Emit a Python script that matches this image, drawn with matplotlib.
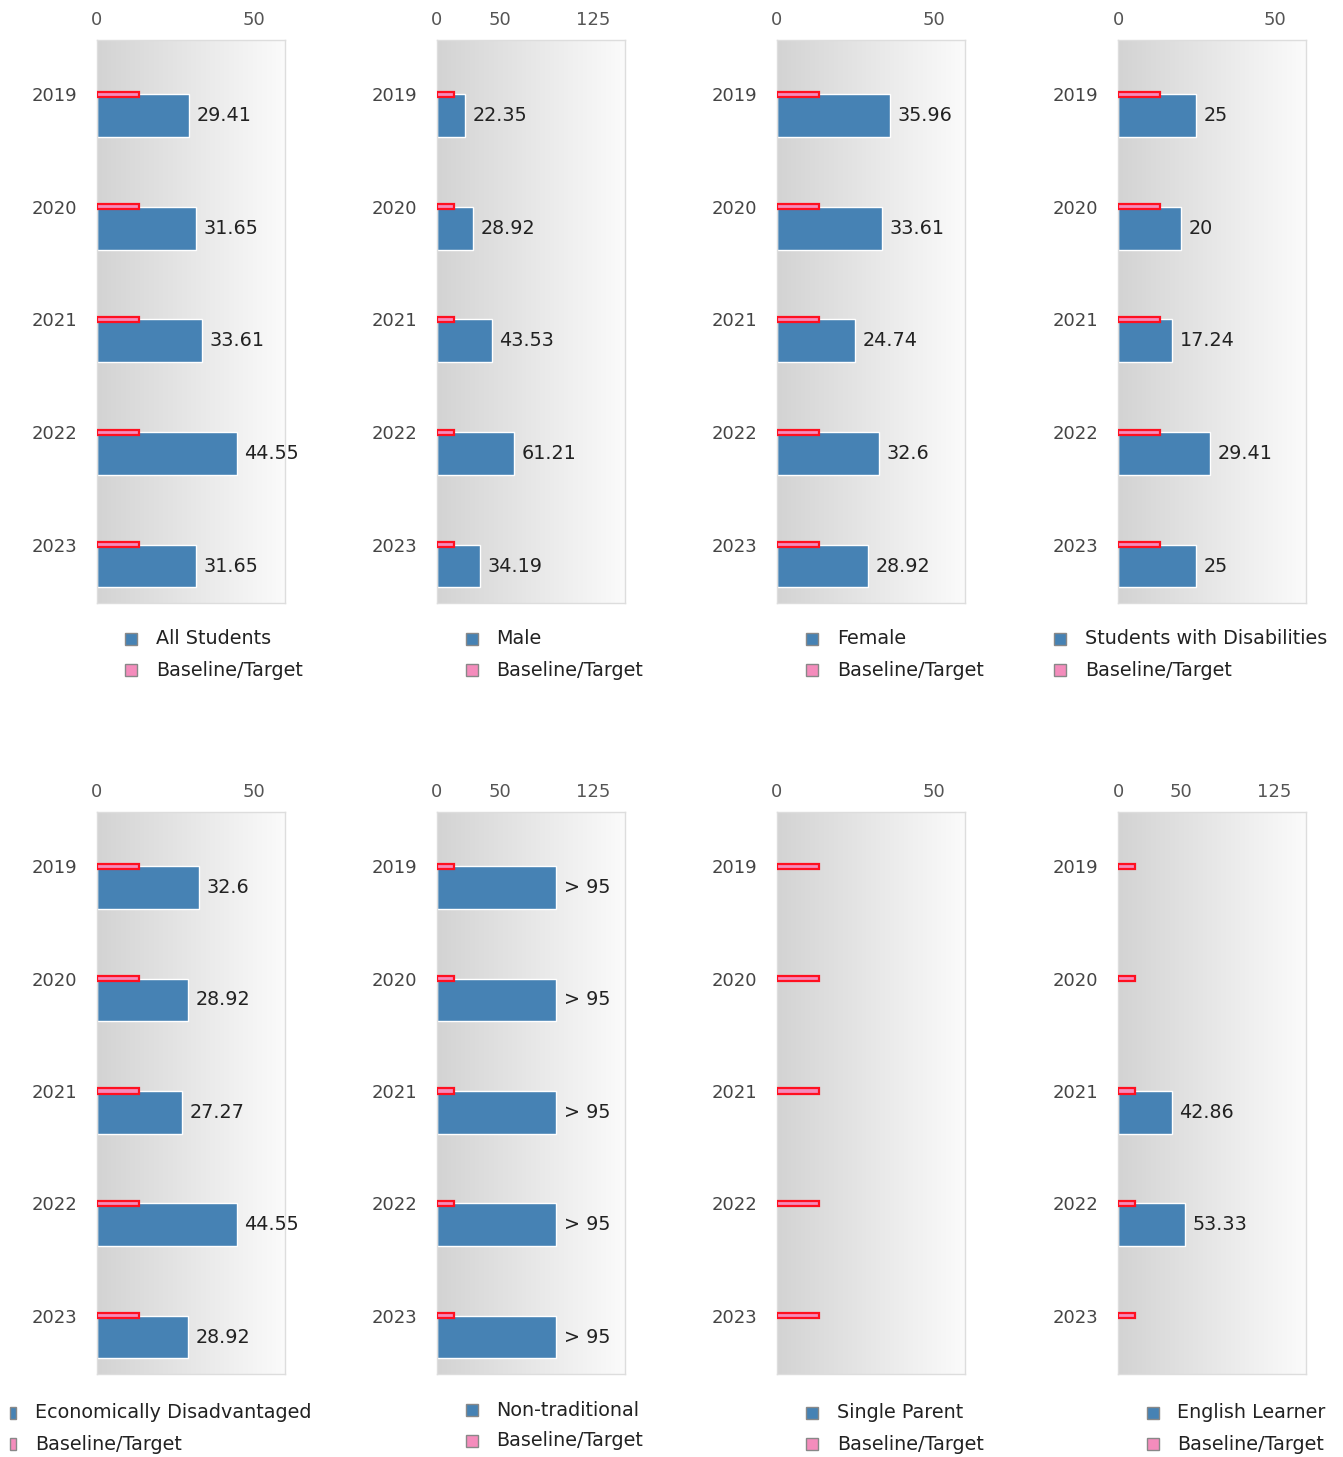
import numpy as np
import matplotlib
matplotlib.use('Agg')
from matplotlib import pyplot as plt
from matplotlib.colors import LinearSegmentedColormap
from matplotlib.patches import Rectangle

years = ['2019', '2020', '2021', '2022', '2023']
baseline = [13.3, 13.3, 13.3, 13.3, 13.3]

all_students = [29.41, 31.65, 33.61, 44.55, 31.65]
male = [22.35, 28.92, 43.53, 61.21, 34.19]
female = [35.96, 33.61, 24.74, 32.6, 28.92]
swd = [25, 20, 17.24, 29.41, 25]
econ = [32.6, 28.92, 27.27, 44.55, 28.92]
nontrad = [95, 95, 95, 95, 95]
nontrad_labels = ['> 95', '> 95', '> 95', '> 95', '> 95']
single_parent = [None, None, None, None, None]
english_learner = [None, None, 42.86, 53.33, None]

groups = ['All Students', 'Male', 'Female', 'Students with Disabilities',
          'Economically Disadvantaged', 'Non-traditional', 'Single Parent', 'English Learner']
series = [all_students, male, female, swd, econ, nontrad, single_parent, english_learner]
labels = [None, None, None, None, None, nontrad_labels, None, None]
xmax = [60, 150, 60, 60, 60, 150, 60, 150]
xticks = {60: [0, 50], 150: [0, 50, 125]}

W, H = 1343, 1457
fig = plt.figure(figsize=(W / 100, H / 100), dpi=100)

col_x = [97, 437, 777, 1118]
row_y = [(40, 603), (812, 1374)]
# legend square x, text x, first line y (pixels)
leg_pos = [(131, 156, 639), (472, 496, 639), (812, 837, 639), (1060, 1085, 639),
           (13, 35, 1413), (472, 496, 1410), (812, 837, 1413), (1153, 1177, 1413)]

grad = LinearSegmentedColormap.from_list('bg', ['#d3d3d3', '#fbfbfb'])
blue = '#4682b4'
pink = '#f48cbc'

def px(x, y):
    return x / W, 1 - y / H

for k, name in enumerate(groups):
    r, c = divmod(k, 4)
    top, bot = row_y[r]
    left = col_x[c]
    ax = fig.add_axes([left / W, 1 - bot / H, 188 / W, (bot - top) / H])
    ax.imshow(np.linspace(0, 1, 256).reshape(1, -1), cmap=grad, aspect='auto',
              extent=[0, 1, 0, 1], transform=ax.transAxes, zorder=0)
    vals = np.array([np.nan if v is None else v for v in series[k]], dtype=float)
    y = np.arange(len(years))
    ax.barh(y, vals, height=0.38, align='edge', color=blue, edgecolor='white',
            linewidth=1, zorder=2)
    ax.barh(y, baseline, height=0.045, color=pink, edgecolor='#ff1020',
            linewidth=1.6, zorder=3)
    for i, v in enumerate(series[k]):
        if v is None:
            continue
        txt = labels[k][i] if labels[k] is not None else f'{v:g}'
        ax.annotate(txt, (v, i + 0.19), xytext=(5.5, 0), textcoords='offset points',
                    va='center', ha='left', fontsize=13.8, color='#222222', zorder=4)
    ax.set_xlim(0, xmax[k])
    ax.set_ylim(4.518, -0.482)
    ax.xaxis.tick_top()
    ax.set_xticks(xticks[xmax[k]])
    ax.set_yticks(y)
    ax.set_yticklabels(years)
    ax.tick_params(axis='x', length=0, pad=8, labelsize=13, labelcolor='#555555')
    ax.tick_params(axis='y', length=0, pad=14, labelsize=13, labelcolor='#444444')
    for s in ax.spines.values():
        s.set_color('#dddddd')
        s.set_linewidth(1)

    sx, tx, ty = leg_pos[k]
    sw = 6 if k == 4 else 12
    for j, (lab, col) in enumerate([(name, blue), ('Baseline/Target', pink)]):
        yy = ty + 31 * j
        x0, y0 = px(sx - sw / 2, yy + 6)
        fig.add_artist(Rectangle((x0, y0), sw / W, 12 / H, transform=fig.transFigure,
                                 facecolor=col, edgecolor='#888888', linewidth=1))
        fig.text(*px(tx, yy), lab, fontsize=13.8, color='#222222', va='center', ha='left')

fig.savefig('out.png', dpi=100)
